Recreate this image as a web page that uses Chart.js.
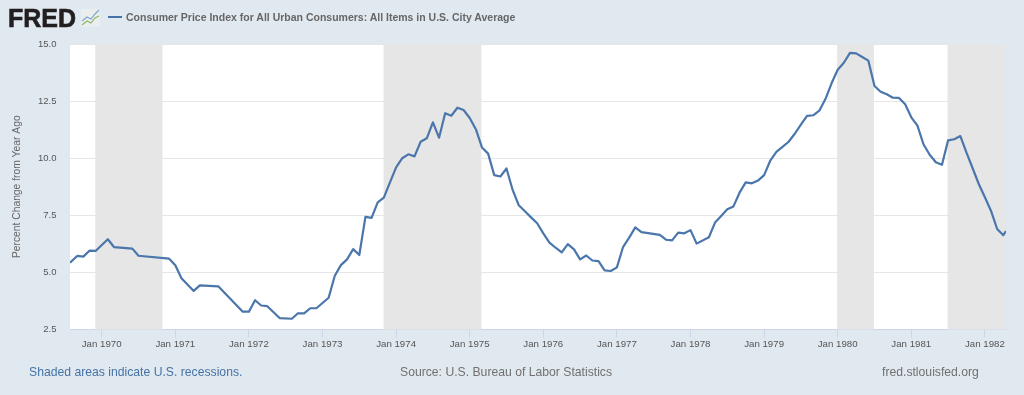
<!DOCTYPE html>
<html><head><meta charset="utf-8">
<script src="https://cdn.jsdelivr.net/npm/chart.js@4"></script>
<style>
html,body{margin:0;padding:0;background:#e1e9f0;width:1024px;height:395px;overflow:hidden;font-family:"Liberation Sans",Arial,sans-serif}
#wrap{position:relative;width:1024px;height:395px}
canvas{position:absolute;left:0;top:0}
.t{position:absolute;white-space:nowrap}
</style></head><body>
<div id="wrap">
<canvas id="c" width="1024" height="395"></canvas>
<div class="t" style="left:8px;top:4px;font-size:25px;font-weight:bold;color:#231f20;-webkit-text-stroke:0.6px #231f20;line-height:28px">FRED</div>
<svg style="position:absolute;left:81px;top:9px" width="19" height="18" viewBox="0 0 19 18">
<rect x="0" y="0" width="19" height="18" fill="#eaeeee"/>
<polyline points="1,12 6,8 10,10 14,5 18,1" fill="none" stroke="#7fa6c6" stroke-width="1.2"/>
<polyline points="1,16 6,12 10,14 14,9 18,7" fill="none" stroke="#8fb56a" stroke-width="1.2"/>
</svg>
<div style="position:absolute;left:108px;top:16px;width:14px;height:2px;background:#4572a7"></div>
<div class="t" style="left:126px;top:10px;font-size:10.5px;font-weight:bold;color:#666;line-height:14px">Consumer Price Index for All Urban Consumers: All Items in U.S. City Average</div>
<div class="t" style="left:29px;top:365px;font-size:12.2px;color:#4572a7;line-height:15px">Shaded areas indicate U.S. recessions.</div>
<div class="t" style="left:400px;top:365px;font-size:12.2px;color:#707070;line-height:15px">Source: U.S. Bureau of Labor Statistics</div>
<div class="t" style="left:882px;top:365px;font-size:12.2px;color:#707070;line-height:15px">fred.stlouisfed.org</div>
</div>
<script>
const seriesName = "Consumer Price Index for All Urban Consumers: All Items in U.S. City Average";
// months since Jan 1970
const months = [-5.17,-4,-3,-2,-1,1,2,5,6,11,12,13,15,16,19,23,24,25,26,27,29,31,32,33,34,35,37,38,39,40,41,42,43,44,45,46,47,48,49,50,51,52,53,54,55,56,57,58,59,60,61,62,63,64,65,66,67,68,69,70,71,72,73,74,75,76,77,78,79,80,81,82,83,84,85,86,87,88,91,92,93,94,95,96,97,99,100,101,102,103,104,105,106,107,108,109,110,111,112,113,114,115,116,117,118,119,120,121,122,123,124,125,126,127,128,129,130,131,132,133,134,135,136,137,138,139,140,141,142,143,144,145,146,147,147.44];
const values = [5.42,5.72,5.69,5.95,5.94,6.45,6.11,6.04,5.73,5.60,5.31,4.74,4.19,4.43,4.39,3.28,3.28,3.78,3.55,3.52,3.00,2.97,3.21,3.21,3.43,3.43,3.89,4.85,5.32,5.57,6.02,5.76,7.43,7.39,8.07,8.27,8.94,9.60,10.00,10.17,10.08,10.72,10.87,11.57,10.90,11.97,11.86,12.21,12.11,11.76,11.27,10.47,10.20,9.26,9.20,9.55,8.61,7.94,7.68,7.41,7.15,6.71,6.30,6.08,5.88,6.24,6.01,5.57,5.74,5.52,5.49,5.09,5.06,5.22,6.11,6.52,6.97,6.76,6.64,6.43,6.40,6.74,6.71,6.85,6.26,6.54,7.18,7.47,7.76,7.89,8.49,8.94,8.90,9.02,9.26,9.89,10.28,10.50,10.72,11.07,11.47,11.85,11.88,12.08,12.59,13.28,13.87,14.18,14.61,14.59,14.43,14.27,13.16,12.91,12.80,12.65,12.64,12.36,11.79,11.43,10.60,10.15,9.82,9.71,10.78,10.83,10.97,10.24,9.56,8.87,8.29,7.69,6.90,6.63,6.81];
const recessionStarts = [-1.05,45.95,119.9,137.9];
const recessionEnds = [9.9,61.9,125.9,147.44];
const xTickMonths = [0,12,24,36,48,60,72,84,96,108,120,132,144];
const xTickLabels = ["Jan 1970","Jan 1971","Jan 1972","Jan 1973","Jan 1974","Jan 1975","Jan 1976","Jan 1977","Jan 1978","Jan 1979","Jan 1980","Jan 1981","Jan 1982"];
const yTicks = [2.5,5,7.5,10,12.5,15];
const yTitle = "Percent Change from Year Ago";

const recessionBands = {
  id:'recessionBands',
  beforeDatasetsDraw(chart){
    const {ctx,chartArea:a,scales:{x}} = chart;
    ctx.save();
    ctx.fillStyle='#e6e6e6';
    recessionStarts.forEach((s,i)=>{
      const l=x.getPixelForValue(s), r=x.getPixelForValue(recessionEnds[i]);
      ctx.fillRect(l,a.top,r-l,a.bottom-a.top);
    });
    ctx.restore();
  }
};
const plotBg = {
  id:'plotBg',
  beforeDraw(chart){
    const {ctx,chartArea:a}=chart;
    ctx.save();ctx.fillStyle='#ffffff';ctx.fillRect(a.left,a.top,a.right-a.left,a.bottom-a.top);ctx.restore();
  }
};
new Chart(document.getElementById('c'),{
  type:'line',
  data:{datasets:[{
    label:seriesName,
    data:months.map((m,i)=>({x:m,y:values[i]})),
    borderColor:'#4a76ab',borderWidth:2.2,pointRadius:0,tension:0,fill:false,borderJoinStyle:'round'
  }]},
  plugins:[plotBg,recessionBands],
  options:{
    responsive:false,animation:false,
    layout:{padding:{left:0,right:18,top:44,bottom:0}},
    plugins:{legend:{display:false},tooltip:{enabled:false},title:{display:false}},
    scales:{
      x:{
        type:'linear',min:-5.17,max:147.44,
        afterBuildTicks(s){s.ticks=xTickMonths.map(v=>({value:v}));},
        afterFit(s){s.height=65.5;},
        grid:{drawOnChartArea:false,drawTicks:true,tickLength:8,tickColor:'#c9d7e6'},
        border:{display:true,color:'#ccd6eb',width:1},
        ticks:{autoSkip:false,maxRotation:0,minRotation:0,padding:1,color:'#555',font:{family:'"Liberation Sans"',size:9.7},
          callback(v){const i=xTickMonths.indexOf(v);return i>=0?xTickLabels[i]:'';}}
      },
      y:{
        min:2.5,max:15,
        afterBuildTicks(s){s.ticks=yTicks.map(v=>({value:v}));},
        afterFit(s){s.width=70;},
        grid:{color:'#e6e6e6',lineWidth:1,drawTicks:false},
        border:{display:false},
        title:{display:true,text:yTitle,color:'#666',font:{family:'"Liberation Sans"',size:10.3},padding:{top:11,bottom:0}},
        ticks:{padding:13.5,color:'#555',font:{family:'"Liberation Sans"',size:9.5},callback(v){return v.toFixed(1);}}
      }
    }
  }
});
</script>
</body></html>
